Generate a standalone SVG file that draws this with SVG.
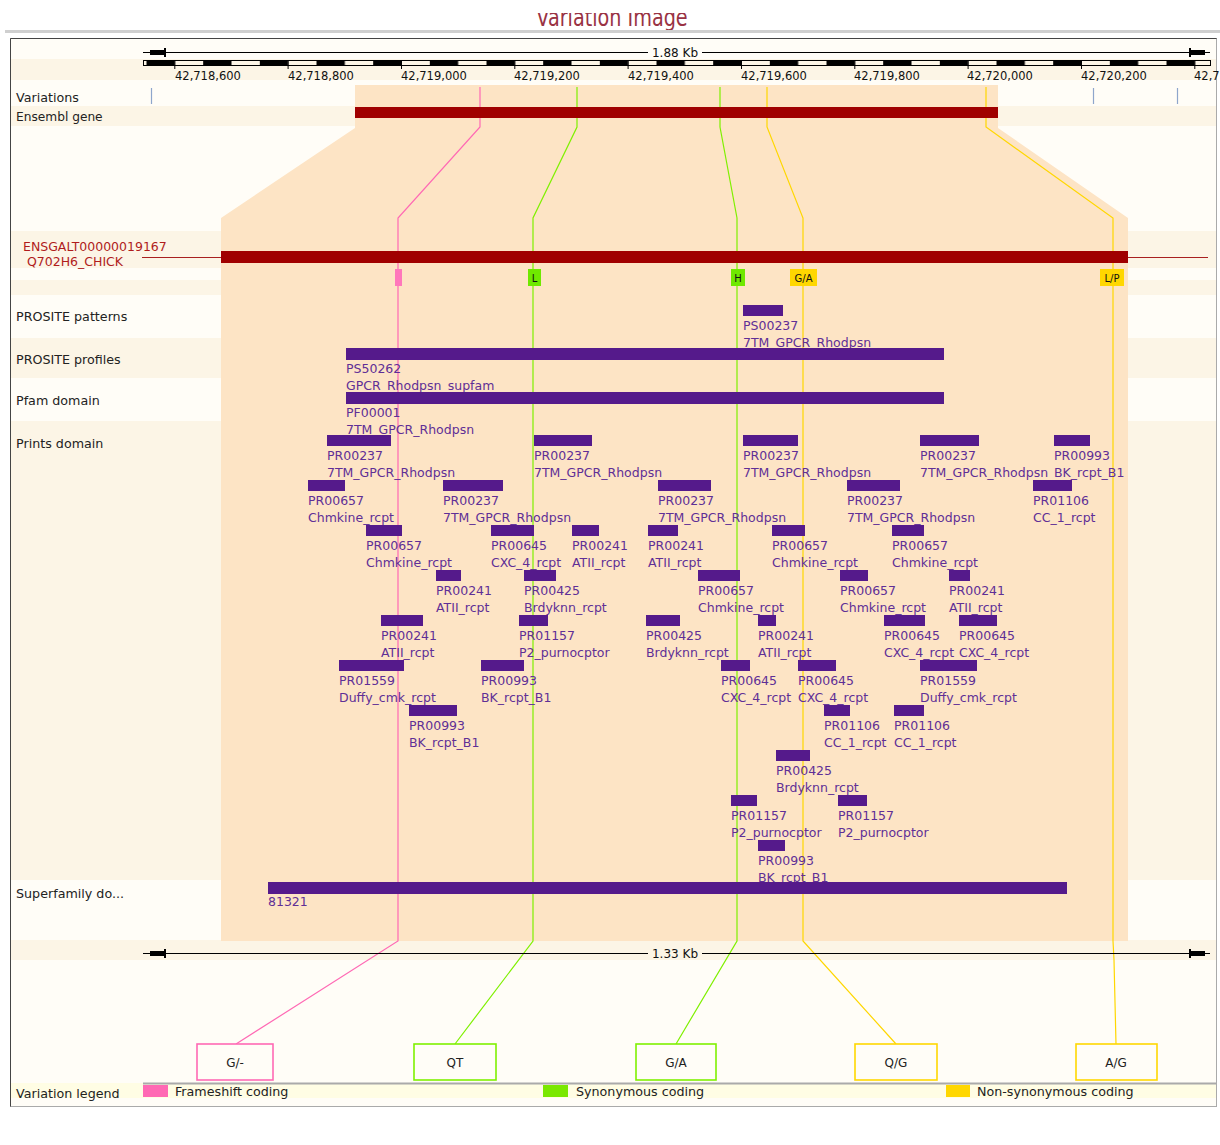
<svg xmlns="http://www.w3.org/2000/svg" width="1220" height="1145" viewBox="0 0 1220 1145">
<defs>
<style>
.t{font-family:"DejaVu Sans","Liberation Sans",sans-serif;}
.lab{font-size:12.7px;fill:#222;}
.tick{font-size:11.5px;fill:#111;}
.ft{font-size:12.5px;fill:#5f2f96;}
.bar{fill:#551a8b;}
.vl{fill:none;stroke-width:1.2;}
.pk{stroke:#ff69b4;}
.gr{stroke:#7ff000;}
.yl{stroke:#ffd700;}
.box{fill:#fffdf7;stroke-width:1.6;}
.bt{font-size:12px;fill:#222;text-anchor:middle;}
.vt{font-size:10px;fill:#111;text-anchor:middle;}
.dk{fill:#fcf5e6;}
</style>
<pattern id="sb" patternUnits="userSpaceOnUse" x="146.5" y="60" width="56.667" height="5">
<rect width="28.333" height="5" fill="#000"/>
</pattern>
<clipPath id="tc"><rect x="0" y="13" width="1220" height="20"/></clipPath>
</defs>
<rect width="1220" height="1145" fill="#fff"/>
<g clip-path="url(#tc)">
<text class="t" transform="translate(612,26) scale(0.8,1)" x="0" y="0" text-anchor="middle" font-family="Liberation Sans, Arial, sans-serif" font-size="24" fill="#993344">Variation Image</text>
</g>
<rect x="5" y="30" width="1215" height="3" fill="#cfcfcf"/>

<g id="frame">
<rect x="10.5" y="38.5" width="1206" height="1068" fill="#fffdf7" stroke="#aaa"/>
<path d="M10.5,1106.5 V38.5 H1216.5" fill="none" stroke="#444"/>
<rect class="dk" x="11" y="59" width="1205" height="21"/>
<rect class="dk" x="11" y="106" width="1205" height="20"/>
<rect class="dk" x="11" y="231" width="1205" height="37"/>
<rect class="dk" x="11" y="280" width="1205" height="15"/>
<rect class="dk" x="11" y="338" width="1205" height="40"/>
<rect class="dk" x="11" y="421" width="1205" height="459"/>
<rect class="dk" x="11" y="940" width="1205" height="20"/>
<rect x="11" y="1083" width="1205" height="15" fill="#fffde4"/>
<line x1="143" y1="1083.5" x2="1216" y2="1083.5" stroke="#aaa" stroke-width="2"/>
</g>

<g id="highlight">
<path d="M355,85 H998 V128 L1128,218 V941 H221 V218 L355,128 Z" fill="#fde4c5"/>
</g>

<g id="track-labels" class="t lab">
<text x="16" y="102">Variations</text>
<text x="16" y="121" font-size="12.2">Ensembl gene</text>
<text x="23" y="251" fill="#b01c1c" font-size="12.5">ENSGALT00000019167</text>
<text x="27" y="266" fill="#b01c1c" font-size="12.5">Q702H6_CHICK</text>
<text x="16" y="321">PROSITE patterns</text>
<text x="16" y="364">PROSITE profiles</text>
<text x="16" y="405">Pfam domain</text>
<text x="16" y="448">Prints domain</text>
<text x="16" y="898">Superfamily do...</text>
<text x="16" y="1098">Variation legend</text>
</g>

<g id="ruler-top">
<line x1="143" y1="52.5" x2="648" y2="52.5" stroke="#000"/>
<line x1="702" y1="52.5" x2="1210" y2="52.5" stroke="#000"/>
<rect x="150" y="50" width="14" height="5" fill="#000"/>
<rect x="164" y="48" width="2" height="9" fill="#000"/>
<rect x="1191" y="50" width="14" height="5" fill="#000"/>
<rect x="1189" y="48" width="2" height="9" fill="#000"/>
<text class="t" x="675" y="57" font-size="12" text-anchor="middle" fill="#111">1.88 Kb</text>
<rect x="143.5" y="60.5" width="1067" height="5" fill="url(#sb)" stroke="#000"/>
<g stroke="#000">
<line x1="174.8" y1="60" x2="174.8" y2="69"/>
<line x1="288.1" y1="60" x2="288.1" y2="69"/>
<line x1="401.5" y1="60" x2="401.5" y2="69"/>
<line x1="514.8" y1="60" x2="514.8" y2="69"/>
<line x1="628.1" y1="60" x2="628.1" y2="69"/>
<line x1="741.5" y1="60" x2="741.5" y2="69"/>
<line x1="854.8" y1="60" x2="854.8" y2="69"/>
<line x1="968.1" y1="60" x2="968.1" y2="69"/>
<line x1="1081.5" y1="60" x2="1081.5" y2="69"/>
<line x1="1194.8" y1="60" x2="1194.8" y2="69"/>
</g>
<g class="t tick">
<text x="175" y="80">42,718,600</text>
<text x="288" y="80">42,718,800</text>
<text x="401" y="80">42,719,000</text>
<text x="514" y="80">42,719,200</text>
<text x="628" y="80">42,719,400</text>
<text x="741" y="80">42,719,600</text>
<text x="854" y="80">42,719,800</text>
<text x="967" y="80">42,720,000</text>
<text x="1081" y="80">42,720,200</text>
<text x="1194" y="80">42,7</text>
</g>
</g>

<g id="connectors">
<path class="vl pk" d="M480,87 V127 L398,218 V941 L236,1044"/>
<path class="vl gr" d="M577,87 V127 L533,218 V941 L455,1044"/>
<path class="vl gr" d="M720,87 V127 L737,218 V941 L676,1044"/>
<path class="vl yl" d="M767,87 V127 L803,218 V941 L896,1044"/>
<path class="vl yl" d="M986,87 V127 L1113,218 V941 L1114,960 L1116,1044"/>
</g>

<g id="variations-track">
<g stroke="#8ea6cc" stroke-width="1.2">
<line x1="151.5" y1="88" x2="151.5" y2="104"/>
<line x1="1093.5" y1="88" x2="1093.5" y2="104"/>
<line x1="1177.5" y1="88" x2="1177.5" y2="104"/>
</g>
</g>

<g id="ensembl-gene">
<rect x="355" y="107" width="643" height="11" fill="#a00000"/>
</g>

<g id="transcript">
<line x1="142" y1="257.5" x2="221" y2="257.5" stroke="#a82020"/>
<line x1="1128" y1="257.5" x2="1208" y2="257.5" stroke="#a82020"/>
<rect x="221" y="251" width="907" height="12" fill="#a00000"/>
<rect x="395" y="269" width="7" height="17" fill="#ff77bb"/>
<rect x="528" y="269" width="13" height="17" fill="#6fe800"/>
<text class="t vt" x="534.5" y="282">L</text>
<rect x="731" y="269" width="14" height="17" fill="#6fe800"/>
<text class="t vt" x="738" y="282">H</text>
<rect x="790" y="269" width="27" height="17" fill="#ffd700"/>
<text class="t vt" x="803.5" y="282">G/A</text>
<rect x="1100" y="269" width="24" height="17" fill="#ffd700"/>
<text class="t vt" x="1112" y="282">L/P</text>
</g>

<g id="prosite-patterns">
<text class="t ft" x="743" y="330">PS00237</text><text class="t ft" x="743" y="347">7TM_GPCR_Rhodpsn</text>
<rect class="bar" x="743" y="305" width="40" height="11"/>
</g>
<g id="prosite-profiles">
<text class="t ft" x="346" y="373">PS50262</text><text class="t ft" x="346" y="390">GPCR_Rhodpsn_supfam</text>
<rect class="bar" x="346" y="348" width="598" height="12"/>
</g>
<g id="pfam-domain">
<text class="t ft" x="346" y="417">PF00001</text><text class="t ft" x="346" y="434">7TM_GPCR_Rhodpsn</text>
<rect class="bar" x="346" y="392" width="598" height="12"/>
</g>

<g id="prints-domain">
<g id="pr-a1"><text class="t ft" x="327" y="460">PR00237</text><text class="t ft" x="327" y="477">7TM_GPCR_Rhodpsn</text><rect class="bar" x="327" y="435" width="64" height="11"/></g>
<g id="pr-a2"><text class="t ft" x="534" y="460">PR00237</text><text class="t ft" x="534" y="477">7TM_GPCR_Rhodpsn</text><rect class="bar" x="534" y="435" width="58" height="11"/></g>
<g id="pr-a3"><text class="t ft" x="743" y="460">PR00237</text><text class="t ft" x="743" y="477">7TM_GPCR_Rhodpsn</text><rect class="bar" x="743" y="435" width="55" height="11"/></g>
<g id="pr-a4"><text class="t ft" x="920" y="460">PR00237</text><text class="t ft" x="920" y="477">7TM_GPCR_Rhodpsn</text><rect class="bar" x="920" y="435" width="59" height="11"/></g>
<g id="pr-a5"><text class="t ft" x="1054" y="460">PR00993</text><text class="t ft" x="1054" y="477">BK_rcpt_B1</text><rect class="bar" x="1054" y="435" width="36" height="11"/></g>

<g id="pr-b1"><text class="t ft" x="308" y="505">PR00657</text><text class="t ft" x="308" y="522">Chmkine_rcpt</text><rect class="bar" x="308" y="480" width="37" height="11"/></g>
<g id="pr-b2"><text class="t ft" x="443" y="505">PR00237</text><text class="t ft" x="443" y="522">7TM_GPCR_Rhodpsn</text><rect class="bar" x="443" y="480" width="60" height="11"/></g>
<g id="pr-b3"><text class="t ft" x="658" y="505">PR00237</text><text class="t ft" x="658" y="522">7TM_GPCR_Rhodpsn</text><rect class="bar" x="658" y="480" width="53" height="11"/></g>
<g id="pr-b4"><text class="t ft" x="847" y="505">PR00237</text><text class="t ft" x="847" y="522">7TM_GPCR_Rhodpsn</text><rect class="bar" x="847" y="480" width="53" height="11"/></g>
<g id="pr-b5"><text class="t ft" x="1033" y="505">PR01106</text><text class="t ft" x="1033" y="522">CC_1_rcpt</text><rect class="bar" x="1033" y="480" width="39" height="11"/></g>

<g id="pr-c1"><text class="t ft" x="366" y="550">PR00657</text><text class="t ft" x="366" y="567">Chmkine_rcpt</text><rect class="bar" x="366" y="525" width="36" height="11"/></g>
<g id="pr-c2"><text class="t ft" x="491" y="550">PR00645</text><text class="t ft" x="491" y="567">CXC_4_rcpt</text><rect class="bar" x="491" y="525" width="43" height="11"/></g>
<g id="pr-c3"><text class="t ft" x="572" y="550">PR00241</text><text class="t ft" x="572" y="567">ATII_rcpt</text><rect class="bar" x="572" y="525" width="27" height="11"/></g>
<g id="pr-c4"><text class="t ft" x="648" y="550">PR00241</text><text class="t ft" x="648" y="567">ATII_rcpt</text><rect class="bar" x="648" y="525" width="30" height="11"/></g>
<g id="pr-c5"><text class="t ft" x="772" y="550">PR00657</text><text class="t ft" x="772" y="567">Chmkine_rcpt</text><rect class="bar" x="772" y="525" width="33" height="11"/></g>
<g id="pr-c6"><text class="t ft" x="892" y="550">PR00657</text><text class="t ft" x="892" y="567">Chmkine_rcpt</text><rect class="bar" x="892" y="525" width="32" height="11"/></g>

<g id="pr-d1"><text class="t ft" x="436" y="595">PR00241</text><text class="t ft" x="436" y="612">ATII_rcpt</text><rect class="bar" x="436" y="570" width="25" height="11"/></g>
<g id="pr-d2"><text class="t ft" x="524" y="595">PR00425</text><text class="t ft" x="524" y="612">Brdyknn_rcpt</text><rect class="bar" x="524" y="570" width="32" height="11"/></g>
<g id="pr-d3"><text class="t ft" x="698" y="595">PR00657</text><text class="t ft" x="698" y="612">Chmkine_rcpt</text><rect class="bar" x="698" y="570" width="42" height="11"/></g>
<g id="pr-d4"><text class="t ft" x="840" y="595">PR00657</text><text class="t ft" x="840" y="612">Chmkine_rcpt</text><rect class="bar" x="840" y="570" width="28" height="11"/></g>
<g id="pr-d5"><text class="t ft" x="949" y="595">PR00241</text><text class="t ft" x="949" y="612">ATII_rcpt</text><rect class="bar" x="949" y="570" width="21" height="11"/></g>

<g id="pr-e1"><text class="t ft" x="381" y="640">PR00241</text><text class="t ft" x="381" y="657">ATII_rcpt</text><rect class="bar" x="381" y="615" width="42" height="11"/></g>
<g id="pr-e2"><text class="t ft" x="519" y="640">PR01157</text><text class="t ft" x="519" y="657">P2_purnocptor</text><rect class="bar" x="519" y="615" width="29" height="11"/></g>
<g id="pr-e3"><text class="t ft" x="646" y="640">PR00425</text><text class="t ft" x="646" y="657">Brdyknn_rcpt</text><rect class="bar" x="646" y="615" width="34" height="11"/></g>
<g id="pr-e4"><text class="t ft" x="758" y="640">PR00241</text><text class="t ft" x="758" y="657">ATII_rcpt</text><rect class="bar" x="758" y="615" width="18" height="11"/></g>
<g id="pr-e5"><text class="t ft" x="884" y="640">PR00645</text><text class="t ft" x="884" y="657">CXC_4_rcpt</text><rect class="bar" x="884" y="615" width="41" height="11"/></g>
<g id="pr-e6"><text class="t ft" x="959" y="640">PR00645</text><text class="t ft" x="959" y="657">CXC_4_rcpt</text><rect class="bar" x="959" y="615" width="38" height="11"/></g>

<g id="pr-f1"><text class="t ft" x="339" y="685">PR01559</text><text class="t ft" x="339" y="702">Duffy_cmk_rcpt</text><rect class="bar" x="339" y="660" width="65" height="11"/></g>
<g id="pr-f2"><text class="t ft" x="481" y="685">PR00993</text><text class="t ft" x="481" y="702">BK_rcpt_B1</text><rect class="bar" x="481" y="660" width="43" height="11"/></g>
<g id="pr-f3"><text class="t ft" x="721" y="685">PR00645</text><text class="t ft" x="721" y="702">CXC_4_rcpt</text><rect class="bar" x="721" y="660" width="29" height="11"/></g>
<g id="pr-f4"><text class="t ft" x="798" y="685">PR00645</text><text class="t ft" x="798" y="702">CXC_4_rcpt</text><rect class="bar" x="798" y="660" width="38" height="11"/></g>
<g id="pr-f5"><text class="t ft" x="920" y="685">PR01559</text><text class="t ft" x="920" y="702">Duffy_cmk_rcpt</text><rect class="bar" x="920" y="660" width="57" height="11"/></g>

<g id="pr-g1"><text class="t ft" x="409" y="730">PR00993</text><text class="t ft" x="409" y="747">BK_rcpt_B1</text><rect class="bar" x="409" y="705" width="48" height="11"/></g>
<g id="pr-g2"><text class="t ft" x="824" y="730">PR01106</text><text class="t ft" x="824" y="747">CC_1_rcpt</text><rect class="bar" x="824" y="705" width="26" height="11"/></g>
<g id="pr-g3"><text class="t ft" x="894" y="730">PR01106</text><text class="t ft" x="894" y="747">CC_1_rcpt</text><rect class="bar" x="894" y="705" width="30" height="11"/></g>

<g id="pr-h1"><text class="t ft" x="776" y="775">PR00425</text><text class="t ft" x="776" y="792">Brdyknn_rcpt</text><rect class="bar" x="776" y="750" width="34" height="11"/></g>

<g id="pr-i1"><text class="t ft" x="731" y="820">PR01157</text><text class="t ft" x="731" y="837">P2_purnocptor</text><rect class="bar" x="731" y="795" width="26" height="11"/></g>
<g id="pr-i2"><text class="t ft" x="838" y="820">PR01157</text><text class="t ft" x="838" y="837">P2_purnocptor</text><rect class="bar" x="838" y="795" width="29" height="11"/></g>

<g id="pr-j1"><text class="t ft" x="758" y="865">PR00993</text><text class="t ft" x="758" y="882">BK_rcpt_B1</text><rect class="bar" x="758" y="840" width="27" height="11"/></g>
</g>

<g id="superfamily">
<text class="t ft" x="268" y="906">81321</text>
<rect class="bar" x="268" y="882" width="799" height="12"/>
</g>

<g id="ruler-bottom">
<line x1="143" y1="953.5" x2="648" y2="953.5" stroke="#000"/>
<line x1="702" y1="953.5" x2="1210" y2="953.5" stroke="#000"/>
<rect x="150" y="951" width="14" height="5" fill="#000"/>
<rect x="164" y="949" width="2" height="9" fill="#000"/>
<rect x="1191" y="951" width="14" height="5" fill="#000"/>
<rect x="1189" y="949" width="2" height="9" fill="#000"/>
<text class="t" x="675" y="958" font-size="12" text-anchor="middle" fill="#111">1.33 Kb</text>
</g>

<g id="allele-boxes">
<g id="box-g-del"><rect class="box" x="197" y="1044" width="76" height="36" stroke="#ff69b4"/><text class="t bt" x="235" y="1067">G/-</text></g>
<g id="box-qt"><rect class="box" x="414" y="1044" width="82" height="36" stroke="#7ff000"/><text class="t bt" x="455" y="1067">QT</text></g>
<g id="box-ga"><rect class="box" x="636" y="1044" width="80" height="36" stroke="#7ff000"/><text class="t bt" x="676" y="1067">G/A</text></g>
<g id="box-qg"><rect class="box" x="855" y="1044" width="82" height="36" stroke="#ffd700"/><text class="t bt" x="896" y="1067">Q/G</text></g>
<g id="box-ag"><rect class="box" x="1076" y="1044" width="81" height="36" stroke="#ffd700"/><text class="t bt" x="1116" y="1067">A/G</text></g>
</g>

<g id="legend" class="t lab">
<rect x="143" y="1085" width="25" height="12" fill="#ff69b4"/>
<text x="175" y="1096">Frameshift coding</text>
<rect x="543" y="1085" width="25" height="12" fill="#7ae800"/>
<text x="576" y="1096">Synonymous coding</text>
<rect x="946" y="1085" width="24" height="12" fill="#ffd700"/>
<text x="977" y="1096">Non-synonymous coding</text>
</g>
</svg>
